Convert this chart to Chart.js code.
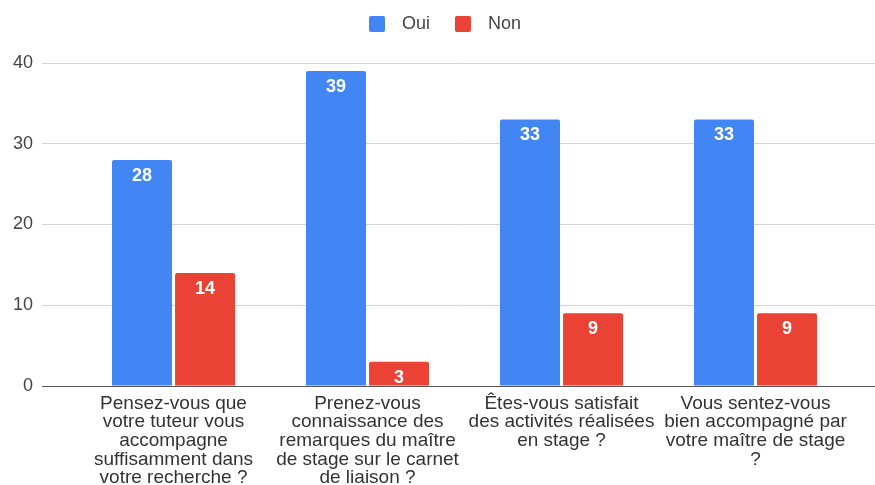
<!DOCTYPE html>
<html>
<head>
<meta charset="utf-8">
<script src="https://cdn.jsdelivr.net/npm/chart.js@4"></script>
<style>
  html, body { margin: 0; padding: 0; background: #ffffff; }
  #wrap { width: 875px; height: 485px; position: relative; }
</style>
</head>
<body>
<div id="wrap"><canvas id="c" width="875" height="485"></canvas></div>
<script>
const categories = [
  ["Pensez-vous que", "votre tuteur vous", "accompagne", "suffisamment dans", "votre recherche ?"],
  ["Prenez-vous", "connaissance des", "remarques du maître", "de stage sur le carnet", "de liaison ?"],
  ["Êtes-vous satisfait", "des activités réalisées", "en stage ?"],
  ["Vous sentez-vous", "bien accompagné par", "votre maître de stage", "?"]
];
const seriesNames = ["Oui", "Non"];
const oui = [28, 39, 33, 33];
const non = [14, 3, 9, 9];
const yTicks = [0, 10, 20, 30, 40];

const BLUE = "#4285F4";
const RED = "#EA4335";
const FONT = 'Arial, "Liberation Sans", sans-serif';

function legendMarker(color) {
  const cv = document.createElement("canvas");
  cv.width = 39; cv.height = 16;
  const g = cv.getContext("2d");
  g.fillStyle = color;
  g.beginPath();
  if (g.roundRect) g.roundRect(15, 0, 16, 16, 2); else g.rect(15, 0, 16, 16);
  g.fill();
  return cv;
}
const markers = [legendMarker(BLUE), legendMarker(RED)];

const valueLabels = {
  id: "valueLabels",
  afterDatasetsDraw(chart) {
    const ctx = chart.ctx;
    ctx.save();
    ctx.font = "bold 18px " + FONT;
    ctx.fillStyle = "#ffffff";
    ctx.textAlign = "center";
    ctx.textBaseline = "middle";
    chart.data.datasets.forEach((ds, di) => {
      const meta = chart.getDatasetMeta(di);
      meta.data.forEach((el, i) => {
        ctx.fillText(String(ds.data[i].y), el.x, el.y + 16);
      });
    });
    ctx.restore();
  }
};

const legendSpace = {
  id: "legendSpace",
  beforeLayout(chart) {
    const lg = chart.legend;
    if (lg && !lg._patched) {
      const orig = lg.fit.bind(lg);
      lg.fit = function () { orig(); this.height += 20; };
      lg._patched = true;
    }
  }
};

new Chart(document.getElementById("c"), {
  type: "bar",
  data: {
    datasets: [
      { label: seriesNames[0], data: oui.map((v, i) => ({ x: i, y: v })), backgroundColor: BLUE },
      { label: seriesNames[1], data: non.map((v, i) => ({ x: i, y: v })), backgroundColor: RED }
    ]
  },
  options: {
    responsive: false,
    animation: false,
    devicePixelRatio: 1,
    layout: { padding: { top: 5, right: 0, left: 0, bottom: 0 } },
    datasets: {
      bar: { categoryPercentage: 0.65, barPercentage: 0.952, borderRadius: 2 }
    },
    plugins: {
      legend: {
        position: "top",
        labels: {
          usePointStyle: true,
          pointStyleWidth: 39,
          padding: 10,
          color: "#444444",
          font: { family: FONT, size: 18 },
          generateLabels(chart) {
            return chart.data.datasets.map((ds, i) => ({
              text: ds.label,
              pointStyle: markers[i],
              fillStyle: ds.backgroundColor,
              strokeStyle: ds.backgroundColor,
              lineWidth: 0,
              fontColor: "#444444",
              datasetIndex: i,
              hidden: false
            }));
          }
        }
      },
      tooltip: { enabled: false }
    },
    scales: {
      x: {
        type: "linear",
        offset: false,
        min: -0.678,
        max: 3.616,
        grid: { display: false, drawTicks: false },
        border: { display: true, color: "#555555", width: 1 },
        afterBuildTicks(scale) { scale.ticks = categories.map((c, i) => ({ value: i })); },
        afterFit(scale) { scale.height = 99; },
        ticks: {
          autoSkip: false,
          maxRotation: 0,
          minRotation: 0,
          padding: 8,
          color: "#333333",
          font: { family: FONT, size: 19, lineHeight: 0.985 },
          callback: (v) => categories[v] || ""
        }
      },
      y: {
        min: 0,
        max: 40,
        afterBuildTicks(scale) { scale.ticks = yTicks.map(v => ({ value: v })); },
        afterFit(scale) { scale.width = 42; },
        grid: { color: "#d3d3d3", drawTicks: false },
        border: { display: false },
        ticks: {
          padding: 9,
          color: "#444444",
          font: { family: FONT, size: 18 }
        }
      }
    }
  },
  plugins: [valueLabels, legendSpace]
});
</script>
</body>
</html>
